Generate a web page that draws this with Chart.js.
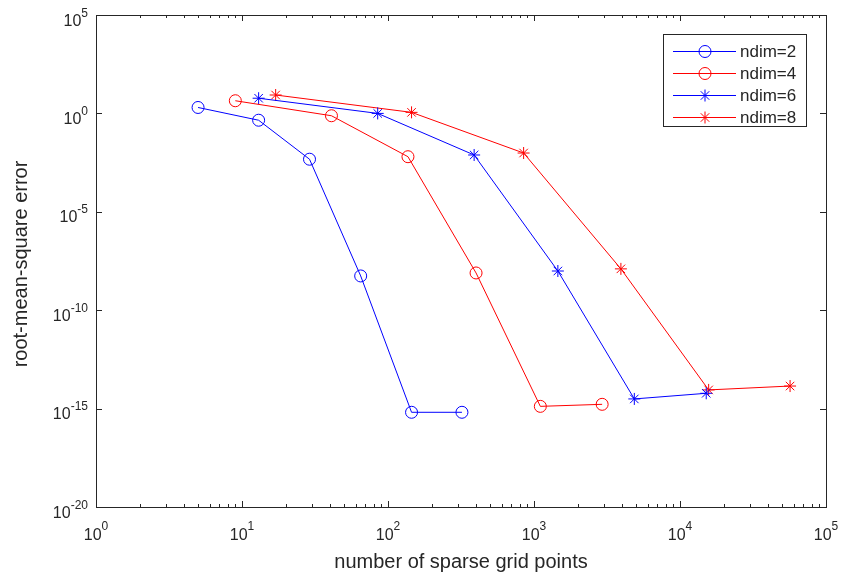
<!DOCTYPE html>
<html>
<head>
<meta charset="utf-8">
<script src="https://cdn.jsdelivr.net/npm/chart.js@4"></script>
<style>
  html, body { margin: 0; padding: 0; background: #fff; }
</style>
</head>
<body>
<canvas id="chart" width="846" height="578"></canvas>
<script>
// sparse grid points per level and rms error, one pair per dimension
const pts2 = [5, 13, 29, 65, 145, 321];
const err2 = [2.0, 0.45, 4.7e-3, 5.5e-9, 6.5e-16, 6.5e-16];
const pts4 = [9, 41, 137, 401, 1105, 2929];
const err4 = [4.4, 0.76, 6.3e-3, 7.8e-9, 1.3e-15, 1.65e-15];
const pts6 = [13, 85, 389, 1457, 4865, 15121];
const err6 = [5.9, 1.0, 7.7e-3, 9.8e-9, 3.1e-15, 6.0e-15];
const pts8 = [17, 145, 849, 3937, 15713, 56737];
const err8 = [8.6, 1.13, 9.7e-3, 1.26e-8, 8.9e-15, 1.4e-14];

const labels = ['ndim=2', 'ndim=4', 'ndim=6', 'ndim=8'];
const xExp = [0, 1, 2, 3, 4, 5];
const yExp = [-20, -15, -10, -5, 0, 5];

const FONT = '"Liberation Sans", Arial, sans-serif';
const INK = '#262626';
const BLUE = '#0000ff';
const RED = '#ff0000';

function pairs(xs, ys) {
    return xs.map((x, i) => ({ x: x, y: ys[i] }));
}

function series(label, xs, ys, color, style) {
    return {
        label: label,
        data: pairs(xs, ys),
        borderColor: color,
        backgroundColor: 'rgba(0,0,0,0)',
        borderWidth: 1,
        pointStyle: style,
        pointRadius: style === 'circle' ? 6 : 6,
        pointBorderColor: color,
        pointBackgroundColor: 'rgba(0,0,0,0)',
        pointBorderWidth: 1,
        tension: 0
    };
}

const datasets = [
    series(labels[0], pts2, err2, BLUE, 'circle'),
    series(labels[1], pts4, err4, RED, 'circle'),
    series(labels[2], pts6, err6, BLUE, 'star'),
    series(labels[3], pts8, err8, RED, 'star')
];

// draw "10" with a raised exponent, anchored by align
function power(ctx, exp, x, y, align, supDy) {
    ctx.font = '16px ' + FONT;
    const base = '10';
    const bw = ctx.measureText(base).width;
    ctx.font = '12px ' + FONT;
    const sup = String(exp);
    const sw = ctx.measureText(sup).width;
    const total = bw + sw;
    let x0 = x;
    if (align === 'center') x0 = x - total / 2;
    if (align === 'right') x0 = x - total;
    ctx.textAlign = 'left';
    ctx.textBaseline = 'alphabetic';
    ctx.font = '16px ' + FONT;
    ctx.fillText(base, x0, y);
    ctx.font = '12px ' + FONT;
    ctx.fillText(sup, x0 + bw, y - supDy);
}

const matlabAxes = {
    id: 'matlabAxes',
    afterDraw(chart) {
        const ctx = chart.ctx;
        const a = chart.chartArea;
        const xs = chart.scales.x;
        const ys = chart.scales.y;
        ctx.save();

        // box
        ctx.strokeStyle = INK;
        ctx.lineWidth = 1;
        ctx.strokeRect(Math.round(a.left) + 0.5, Math.round(a.top) + 0.5,
            Math.round(a.right - a.left), Math.round(a.bottom - a.top));

        // ticks pointing inward
        ctx.beginPath();
        xExp.forEach(e => {
            const px = Math.round(xs.getPixelForValue(Math.pow(10, e))) + 0.5;
            ctx.moveTo(px, a.bottom); ctx.lineTo(px, a.bottom - 6);
            ctx.moveTo(px, a.top); ctx.lineTo(px, a.top + 6);
            if (e < 5) {
                for (let m = 2; m <= 9; m++) {
                    const q = Math.round(xs.getPixelForValue(m * Math.pow(10, e))) + 0.5;
                    ctx.moveTo(q, a.bottom); ctx.lineTo(q, a.bottom - 3);
                    ctx.moveTo(q, a.top); ctx.lineTo(q, a.top + 3);
                }
            }
        });
        yExp.forEach(e => {
            const py = Math.round(ys.getPixelForValue(Math.pow(10, e))) + 0.5;
            ctx.moveTo(a.left, py); ctx.lineTo(a.left + 6, py);
            ctx.moveTo(a.right, py); ctx.lineTo(a.right - 6, py);
        });
        ctx.stroke();

        // tick labels
        ctx.fillStyle = INK;
        xExp.forEach(e => {
            const px = xs.getPixelForValue(Math.pow(10, e));
            power(ctx, e, px, a.bottom + 33, 'center', 10);
        });
        yExp.forEach(e => {
            const py = ys.getPixelForValue(Math.pow(10, e));
            power(ctx, e, a.left - 8, py + 10.5, 'right', 9);
        });

        // axis titles
        ctx.font = '20px ' + FONT;
        ctx.textAlign = 'center';
        ctx.textBaseline = 'alphabetic';
        ctx.fillText('number of sparse grid points', (a.left + a.right) / 2, 568);
        ctx.save();
        ctx.translate(27, 264);
        ctx.rotate(-Math.PI / 2);
        ctx.fillText('root-mean-square error', 0, 0);
        ctx.restore();

        // legend
        const lx = 663, ly = 34, lw = 143, lh = 92;
        ctx.fillStyle = '#fff';
        ctx.fillRect(lx, ly, lw, lh);
        ctx.strokeStyle = INK;
        ctx.strokeRect(lx + 0.5, ly + 0.5, lw, lh);
        chart.data.datasets.forEach((ds, i) => {
            const y = ly + 17 + i * 22;
            ctx.strokeStyle = ds.borderColor;
            ctx.lineWidth = 1;
            ctx.beginPath();
            ctx.moveTo(673, y + 0.5);
            ctx.lineTo(736, y + 0.5);
            ctx.stroke();
            ctx.fillStyle = 'rgba(0,0,0,0)';
            Chart.helpers.drawPoint(ctx, {
                pointStyle: ds.pointStyle, radius: 6, rotation: 0, borderWidth: 1
            }, 705, y + 0.5);
            ctx.fillStyle = INK;
            ctx.font = '17px ' + FONT;
            ctx.textAlign = 'left';
            ctx.textBaseline = 'middle';
            ctx.fillText(ds.label, 740, y + 1);
        });

        ctx.restore();
    }
};

new Chart(document.getElementById('chart'), {
    type: 'line',
    data: { datasets: datasets },
    options: {
        responsive: false,
        animation: false,
        layout: { padding: { top: 15, right: 20, left: 0, bottom: 0 } },
        plugins: { legend: { display: false }, tooltip: { enabled: false } },
        scales: {
            x: {
                type: 'logarithmic', min: 1, max: 1e5,
                ticks: { display: false }, grid: { display: false }, border: { display: false },
                afterFit: s => { s.height = 71; }
            },
            y: {
                type: 'logarithmic', min: 1e-20, max: 1e5,
                ticks: { display: false }, grid: { display: false }, border: { display: false },
                afterFit: s => { s.width = 96; }
            }
        }
    },
    plugins: [matlabAxes]
});
</script>
</body>
</html>
